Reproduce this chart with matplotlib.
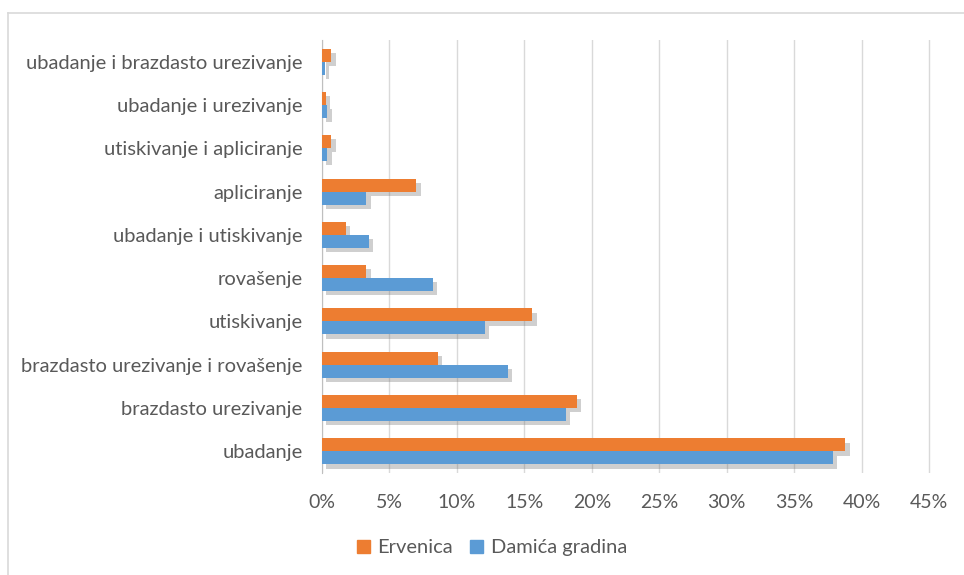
import numpy as np
import matplotlib.pyplot as plt
import matplotlib.patheffects as pe
from matplotlib.patches import Patch
from matplotlib.lines import Line2D
from matplotlib.ticker import FuncFormatter

categories = ["ubadanje", "brazdasto urezivanje", "brazdasto urezivanje i rovašenje",
              "utiskivanje", "rovašenje", "ubadanje i utiskivanje", "apliciranje",
              "utiskivanje i apliciranje", "ubadanje i urezivanje",
              "ubadanje i brazdasto urezivanje"]
ervenica = [38.8, 18.9, 8.6, 15.6, 3.3, 1.8, 7.0, 0.7, 0.3, 0.7]
damica = [37.9, 18.1, 13.8, 12.1, 8.2, 3.5, 3.3, 0.4, 0.4, 0.2]

plt.rcParams['font.family'] = ['Lato', 'DejaVu Sans']
txt = '#595959'
orange = '#ED7D31'
blue = '#5B9BD5'

fig = plt.figure(figsize=(9.64, 5.75), dpi=100)
ax = fig.add_axes([0.334, 0.1774, 0.6437, 0.753])

y = np.arange(len(categories))
h = 0.3
shadow = [pe.SimplePatchShadow(offset=(3, -3), shadow_rgbFace='#777777', alpha=0.35), pe.Normal()]
b1 = ax.barh(y + h / 2, ervenica, height=h, color=orange, zorder=3)
b2 = ax.barh(y - h / 2, damica, height=h, color=blue, zorder=3)
for b in list(b1) + list(b2):
    b.set_path_effects(shadow)

ax.set_xlim(0, 46)
ax.set_ylim(-0.5, len(categories) - 0.5)
ax.set_xticks(np.arange(0, 46, 5))
ax.xaxis.set_major_formatter(FuncFormatter(lambda v, p: f"{int(v)}%"))
ax.set_yticks(y)
ax.set_yticklabels(categories)
ax.grid(axis='x', color='#d9d9d9', linewidth=1, zorder=0)
for s in ['top', 'right', 'bottom']:
    ax.spines[s].set_visible(False)
ax.spines['left'].set_color('#bfbfbf')
ax.tick_params(axis='y', length=0, labelsize=14.5, colors=txt, pad=14)
ax.tick_params(axis='x', length=0, labelsize=14, colors=txt, pad=15)

handles = [Patch(color=orange), Patch(color=blue)]
leg = fig.legend(handles, ['Ervenica', 'Damića gradina'], loc='center', bbox_to_anchor=(0.51, 0.047),
                 ncol=2, frameon=False, fontsize=14.5, handlelength=0.65, handleheight=0.65,
                 columnspacing=0.9, handletextpad=0.35)
for t in leg.get_texts():
    t.set_color(txt)

# chart border (top and left edges)
fig.add_artist(Line2D([0.0083, 1.0], [0.977, 0.977], transform=fig.transFigure, color='#d9d9d9', lw=1.2))
fig.add_artist(Line2D([0.0083, 0.0083], [0.0, 0.977], transform=fig.transFigure, color='#d9d9d9', lw=1.2))
fig.savefig('out.png', dpi=100)
